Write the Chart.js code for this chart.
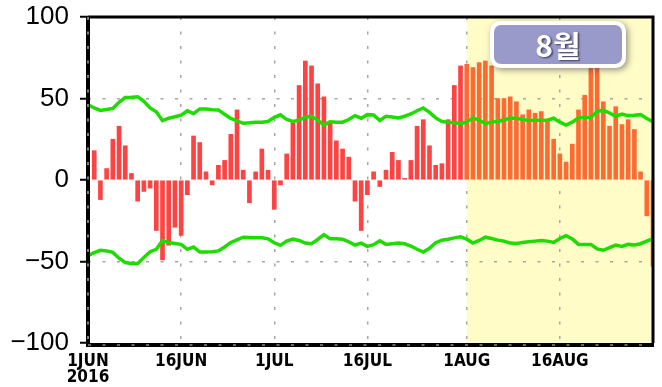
<!DOCTYPE html>
<html><head><meta charset="utf-8">
<script src="https://cdn.jsdelivr.net/npm/chart.js@4"></script>
<style>html,body{margin:0;padding:0;background:#fff;} canvas{display:block;}</style>
</head><body>
<canvas id="c" width="662" height="387"></canvas>
<script>
const monthNames = ['JUN','JUL','AUG'];
const monthDays = [30,31,31];
const yearLabel = '2016';
const tickLabels = ['1JUN','16JUN','1JUL','16JUL','1AUG','16AUG'];
const highlightStart = '1AUG';
const highlightText = '8월';
const gridValues = [-50, 50];

const anomaly = [null,18,-12,7,25,33,21,4,-13,-7,-5,-31,-49,-40,-29,-34,-9,27,23,5,-3,9,12,28,43,6,-14,5,19,6,
  -18,-3,16,35,58,73,70,59,51,35,24,19,14,-13,-31,-9,5,-4,6,17,12,1,12,33,37,21,9,10,37,58,70,
  71,69,72,73,70,50,50,51,48,40,43,41,42,36,25,16,11,22,43,52,72,73,48,33,45,34,37,31,5,-22,-53];

const upperBound = [46.2,44.2,42.7,43.2,43.9,47.7,50.6,50.8,51.1,48.3,44.2,41.8,36.4,37.9,38.8,39.8,42.5,40.7,43.6,43.5,43.1,43.0,40.3,37.8,36.2,34.8,35.1,35.5,35.5,35.9,
  38.4,40.0,37.1,35.9,36.7,38.5,39.1,36.7,33.7,35.7,35.5,35.5,37.1,39.5,37.9,40.1,39.9,36.5,39.1,38.7,38.1,39.1,40.5,42.5,44.2,41.5,38.1,35.9,35.5,35.1,34.7,
  35.5,38.1,36.7,34.7,35.5,36.1,36.7,38.1,37.9,37.1,36.5,36.7,36.7,36.7,37.9,35.5,33.7,35.5,38.1,38.5,38.3,42.1,42.7,41.1,39.1,40.5,39.5,39.7,40.1,37.7,35.7];

const lowerBound = [-46.4,-44.6,-43.1,-43.5,-44.4,-48.0,-50.6,-51.2,-51.2,-47.6,-44.0,-42.5,-37.1,-38.3,-38.9,-39.5,-42.5,-41.1,-44.2,-44.2,-44.0,-43.5,-41.1,-38.3,-36.7,-35.1,-35.3,-35.5,-35.5,-36.1,
  -38.5,-40.1,-37.5,-36.3,-37.1,-38.7,-39.1,-36.5,-33.5,-36.1,-36.1,-36.3,-37.9,-39.9,-38.7,-40.7,-39.7,-37.3,-39.5,-39.1,-38.7,-39.1,-40.5,-42.5,-44.2,-41.9,-38.5,-36.9,-36.3,-35.5,-34.9,
  -36.3,-38.7,-37.1,-35.1,-35.9,-36.9,-37.5,-38.7,-38.9,-38.3,-37.9,-37.5,-37.1,-37.5,-38.3,-35.9,-34.1,-36.1,-39.5,-39.5,-39.5,-42.3,-43.1,-41.5,-39.9,-40.7,-39.5,-39.9,-39.1,-37.5,-35.9];

const categories = [];
monthNames.forEach((m, i) => { for (let d = 1; d <= monthDays[i]; d++) categories.push(d + m); });
const hlIndex = categories.indexOf(highlightStart);

const RED = '#ff4242', ORANGE = '#ff6a33', GREEN = '#1edc00', YELLOW = '#fffcc8', GRID = '#a6a6a6';

const bgPlugin = {
  id: 'bg',
  beforeDraw(chart) {
    const {ctx, chartArea: a, scales: {x}} = chart;
    ctx.save();
    ctx.fillStyle = YELLOW;
    const x0 = x.getPixelForValue(hlIndex);
    ctx.fillRect(x0, a.top, a.right - x0, a.bottom - a.top);
    ctx.restore();
  },
  afterDraw(chart) {
    const {ctx, chartArea: a} = chart;
    ctx.save();
    ctx.strokeStyle = '#000';
    ctx.lineWidth = 4;
    ctx.beginPath(); ctx.moveTo(a.left, a.top - 1); ctx.lineTo(a.left, a.bottom + 2); ctx.lineTo(a.right + 1, a.bottom + 2); ctx.stroke();
    ctx.lineWidth = 3;
    ctx.beginPath(); ctx.moveTo(a.left, a.top); ctx.lineTo(a.right, a.top); ctx.lineTo(a.right, a.bottom); ctx.stroke();
    ctx.strokeStyle = '#d0d0d0'; ctx.lineWidth = 1.2;
    ctx.setLineDash([3, 11.5]);
    ctx.beginPath(); ctx.moveTo(a.left, a.bottom + 2); ctx.lineTo(a.right, a.bottom + 2); ctx.stroke();
    ctx.beginPath(); ctx.moveTo(a.left, a.top); ctx.lineTo(a.left, a.bottom); ctx.stroke();
    ctx.setLineDash([]);
    const bx = 490, by = 21, bw = 136, bh = 47, r = 10;
    ctx.shadowColor = 'rgba(60,60,60,0.55)';
    ctx.shadowBlur = 6; ctx.shadowOffsetX = 2; ctx.shadowOffsetY = 2;
    ctx.fillStyle = '#ffffff';
    ctx.beginPath(); ctx.roundRect(bx, by, bw, bh, r); ctx.fill();
    ctx.shadowColor = 'transparent';
    ctx.fillStyle = '#9a9aca';
    ctx.beginPath(); ctx.roundRect(bx + 4, by + 4, bw - 8, bh - 8, r - 3); ctx.fill();
    ctx.font = 'bold 30px "Noto Sans CJK KR", sans-serif';
    ctx.textAlign = 'center'; ctx.textBaseline = 'middle';
    ctx.shadowColor = 'rgba(40,40,60,0.8)'; ctx.shadowBlur = 2; ctx.shadowOffsetX = 1.5; ctx.shadowOffsetY = 1.5;
    ctx.fillStyle = '#ffffff';
    ctx.fillText(highlightText, bx + bw / 2, by + bh / 2 + 1);
    ctx.restore();
  }
};

new Chart(document.getElementById('c'), {
  type: 'bar',
  data: {
    labels: categories,
    datasets: [
      { type: 'line', data: upperBound, borderColor: GREEN, borderWidth: 3.5, pointRadius: 0, tension: 0, order: 0 },
      { type: 'line', data: lowerBound, borderColor: GREEN, borderWidth: 3.5, pointRadius: 0, tension: 0, order: 0 },
      { type: 'bar', data: anomaly, backgroundColor: categories.map((c, i) => i >= hlIndex ? ORANGE : RED),
        barThickness: 4, borderWidth: 0, order: 1 }
    ]
  },
  options: {
    responsive: false,
    animation: false,
    events: [],
    layout: { padding: { top: 17, right: 9, left: 0, bottom: 0 } },
    plugins: { legend: { display: false }, tooltip: { enabled: false } },
    scales: {
      x: {
        type: 'category',
        offset: false,
        grid: {
          offset: false,
          color: c => (c.index > 0 && tickLabels.includes(categories[c.index])) ? GRID : 'rgba(0,0,0,0)',
          tickColor: c => tickLabels.includes(categories[c.index]) ? '#000' : 'rgba(0,0,0,0)',
          lineWidth: 1.5, tickWidth: 2, tickLength: 4, drawTicks: true
        },
        border: { display: false, dash: [3, 11.5] },
        ticks: {
          autoSkip: false, maxRotation: 0, minRotation: 0, padding: 7,
          color: '#000',
          font: { family: '"Liberation Sans Narrow", "DejaVu Sans Condensed", sans-serif', size: 17, weight: 'bold', lineHeight: 0.92 },
          callback: (v, i) => {
            const l = categories[i];
            if (!tickLabels.includes(l)) return '';
            return i === 0 ? [l, yearLabel] : l;
          }
        },
        afterFit: s => { s.height = 44; }
      },
      y: {
        min: -100, max: 100,
        grid: {
          color: c => gridValues.includes(c.tick.value) ? GRID : 'rgba(0,0,0,0)',
          tickColor: '#000', lineWidth: 1.5, tickWidth: 2, tickLength: 8, drawTicks: true
        },
        border: { display: false, dash: [3, 11.5] },
        ticks: {
          stepSize: 50, padding: 11, color: '#000',
          font: { family: '"Liberation Sans", Arial, sans-serif', size: 26, lineHeight: 0.4 },
          callback: v => v < 0 ? '\u2212' + Math.abs(v) : String(v)
        },
        afterFit: s => { s.width = 88; }
      }
    }
  },
  plugins: [bgPlugin]
});
</script>
</body></html>
